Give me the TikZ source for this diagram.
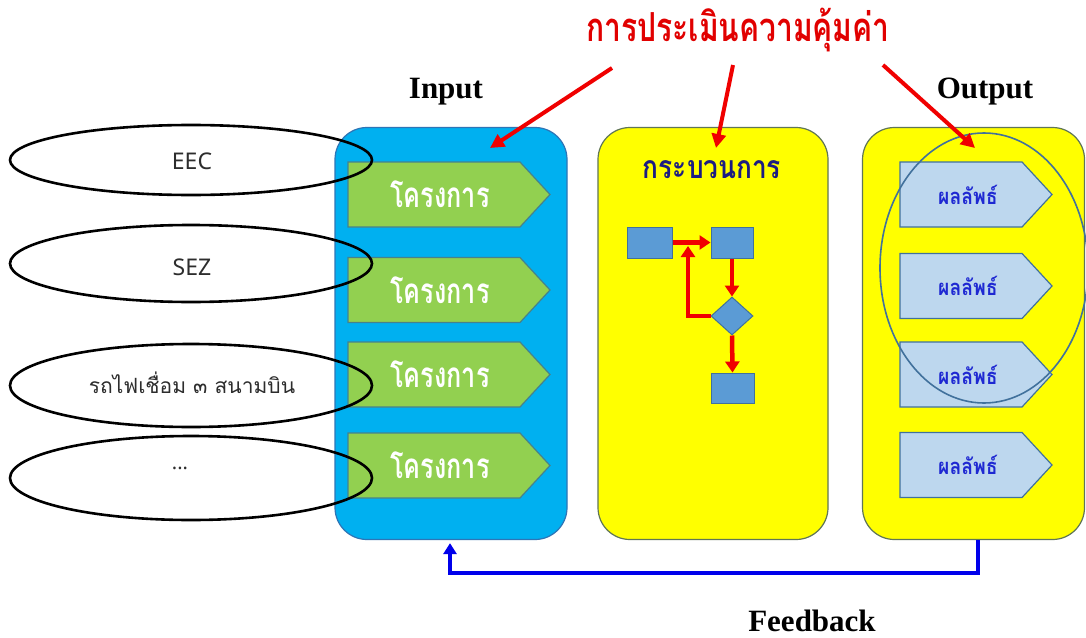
\documentclass[tikz,border=0pt]{standalone}
\usepackage{fontspec}
\setmainfont{Liberation Serif}
\newfontfamily\thaifont[Script=Thai]{Loma}
\newfontfamily\thaicondfont[Script=Thai,FakeStretch=0.75]{Loma}
\newfontfamily\thaiprojfont[Script=Thai,FakeStretch=0.72]{Loma}
\newfontfamily\thaimidfont[Script=Thai,FakeStretch=0.82]{Loma}
\newfontfamily\thairesfont[Script=Thai,FakeStretch=0.88]{Loma}
\newfontfamily\latinsans{Noto Sans}
\usetikzlibrary{shapes.geometric,arrows.meta}

\definecolor{skyblue}{RGB}{0,176,240}
\definecolor{skyedge}{RGB}{46,117,182}
\definecolor{panelyellow}{RGB}{255,255,0}
\definecolor{yellowedge}{RGB}{96,118,86}
\definecolor{projgreen}{RGB}{146,208,80}
\definecolor{projedge}{RGB}{70,130,140}
\definecolor{resblue}{RGB}{189,215,238}
\definecolor{resedge}{RGB}{65,113,156}
\definecolor{stepblue}{RGB}{91,155,213}
\definecolor{arrowred}{RGB}{240,0,0}
\definecolor{titlered}{RGB}{225,0,0}
\definecolor{navy}{RGB}{28,28,130}
\definecolor{resfont}{RGB}{30,40,210}
\definecolor{fbblue}{RGB}{0,0,235}
\definecolor{labelgray}{RGB}{45,45,45}

\begin{document}
\begin{tikzpicture}[x=1pt,y=-1pt,
  panel/.style={rectangle,rounded corners=32pt,line width=1.2pt,inner sep=0pt},
  projarrow/.style={fill=projgreen,draw=projedge,line width=1.2pt},
  resarrow/.style={fill=resblue,draw=resedge,line width=1.2pt},
  projtext/.style={text=white,font=\thaiprojfont\bfseries\fontsize{35}{39}\selectfont},
  restext/.style={text=resfont,font=\thairesfont\bfseries\fontsize{22}{26}\selectfont},
  source/.style={ellipse,draw=black,line width=2.6pt,minimum width=362pt,inner sep=0pt},
  srctext/.style={text=labelgray},
  stepbox/.style={rectangle,fill=stepblue,draw=resedge,line width=1pt,inner sep=0pt},
  flow/.style={draw=arrowred,line width=4.5pt,-{Triangle[length=11pt,width=14pt]}},
  pointer/.style={draw=arrowred,line width=4pt,-{Triangle[length=14pt,width=14pt]}},
  fbarrow/.style={draw=fbblue,line width=4.5pt,-{Triangle[length=11pt,width=13pt]}},
  heading/.style={font=\bfseries\fontsize{31}{35}\selectfont}
]
\useasboundingbox (0,0) rectangle (1086,637);
\fill[white] (0,0) rectangle (1086,637);

% three stages
\node[panel,fill=skyblue,draw=skyedge,minimum width=232pt,minimum height=412pt] (inpanel) at (451,333.5) {};
\node[panel,fill=panelyellow,draw=yellowedge,minimum width=230pt,minimum height=412pt] (procpanel) at (713,333.5) {};
\node[panel,fill=panelyellow,draw=yellowedge,minimum width=222pt,minimum height=412pt] (outpanel) at (973.5,333.5) {};

% projects (input)
\foreach \y [count=\i] in {194.5,290,374.5,465.5} {
  \draw[projarrow] (348,\y-32.5) -- (520,\y-32.5) -- (550,\y) -- (520,\y+32.5) -- (348,\y+32.5) -- cycle;
  \node[projtext] (proj\i) at (440,\y) {โครงการ};
}

% results (output)
\foreach \y [count=\i] in {194.5,286,374.5,465} {
  \draw[resarrow] (900,\y-32.5) -- (1022,\y-32.5) -- (1052,\y) -- (1022,\y+32.5) -- (900,\y+32.5) -- cycle;
  \node[restext] (res\i) at (968,\y) {ผลลัพธ์};
}
\node[ellipse,draw=resedge,line width=1.6pt,minimum width=208pt,minimum height=270pt] (focus) at (984,268) {};

% process flow
\node[text=navy,font=\thaimidfont\bfseries\fontsize{32}{36}\selectfont] (proctitle) at (712,170) {กระบวนการ};
\node[stepbox,minimum width=45pt,minimum height=31pt] (b1) at (649.5,242.5) {};
\node[stepbox,minimum width=42pt,minimum height=31pt] (b2) at (732,242.5) {};
\node[diamond,fill=stepblue,draw=resedge,line width=1pt,inner sep=0pt,minimum width=42pt,minimum height=38pt] (dia) at (732,316) {};
\node[stepbox,minimum width=43pt,minimum height=30pt] (b3) at (732.5,388) {};
\coordinate (loop) at (688,246);
\draw[flow] (b1.east) -- (b2.west);
\draw[flow] (b2.south) -- (dia.north);
\draw[flow] (dia.west) -| (loop);
\draw[flow] (dia.south) -- (b3.north);

% sources
\node[source,minimum height=70pt] (src1) at (191,160) {};
\node[source,minimum height=77pt] (src2) at (191,263.5) {};
\node[source,minimum height=83pt] (src3) at (191,385.5) {};
\node[source,minimum height=84pt] (src4) at (191,478) {};
\node[srctext,font=\latinsans\fontsize{23}{26}\selectfont] (t1) at (192,161) {EEC};
\node[srctext,font=\latinsans\fontsize{23}{26}\selectfont] (t2) at (192,267) {SEZ};
\node[srctext,font=\thaifont\fontsize{21}{25}\selectfont] (t3) at (192,383) {รถไฟเชื่อม ๓ สนามบิน};
\node[srctext,font=\latinsans\fontsize{20}{24}\selectfont] (t4) at (180,468) {...};

% headings
\node[text=titlered,font=\thaicondfont\bfseries\fontsize{40}{44}\selectfont] (eval) at (738,30) {การประเมินความคุ้มค่า};
\node[heading] (inlabel) at (446,92) {Input};
\node[heading] (outlabel) at (985,92) {Output};
\node[heading] (fblabel) at (812,621) {Feedback};

% evaluation pointers
\coordinate (s1) at (612,68);
\coordinate (e1) at (490,148);
\coordinate (s2) at (733,65);
\coordinate (e2) at (716,148);
\coordinate (s3) at (883,65);
\coordinate (e3) at (975,148);
\draw[pointer] (s1) -- (e1);
\draw[pointer] (s2) -- (e2);
\draw[pointer] (s3) -- (e3);

% feedback loop
\draw[fbarrow] ([xshift=4.5pt]outpanel.south) -- ++(0,33) -| ([xshift=-1pt,yshift=-3pt]inpanel.south);
\end{tikzpicture}
\end{document}
